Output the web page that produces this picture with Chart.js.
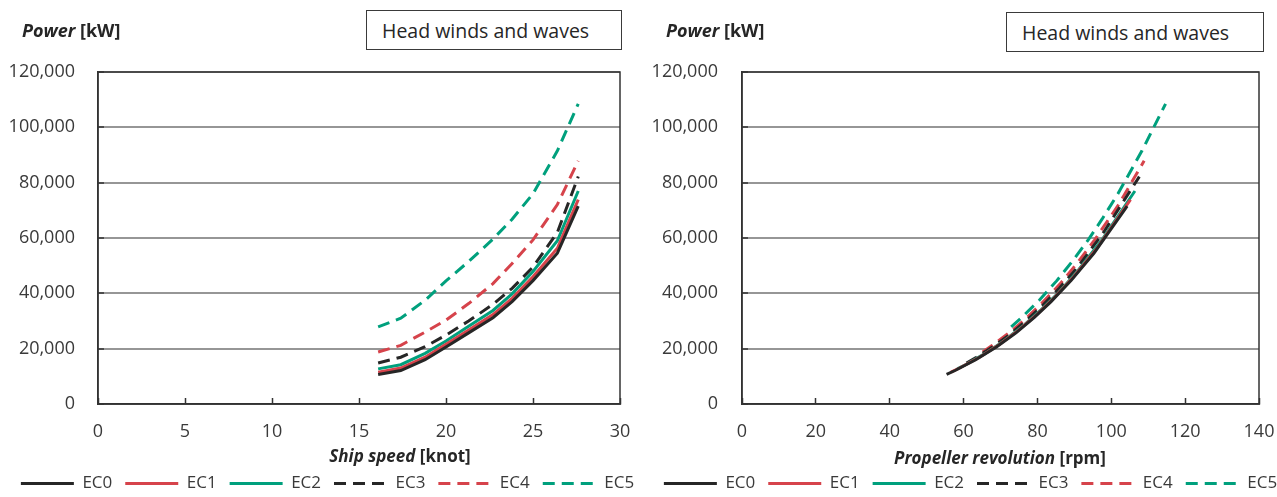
<!DOCTYPE html>
<html>
<head>
<meta charset="utf-8">
<script src="https://cdn.jsdelivr.net/npm/chart.js@4.4.0/dist/chart.umd.min.js"></script>
<style>
html,body{margin:0;padding:0;background:#fff;overflow:hidden;width:1277px;height:497px;}
.wrap{position:absolute;top:0;}
.lbl{position:absolute;font-family:'Open Sans',sans-serif;color:#262626;white-space:nowrap;line-height:20px;}
.ylab{font-size:18px;font-weight:700;}
.xlab{font-size:17px;font-weight:700;transform:translate(-50%,-50%);}
.tbox{position:absolute;border:1.5px solid #3a3a3a;box-sizing:border-box;font-family:'Open Sans',sans-serif;font-size:19.5px;display:flex;align-items:center;padding-left:15px;color:#262626;background:#fff;}
</style>
</head>
<body>
<div class="wrap" style="left:0;width:660px;height:502px"><canvas id="c1" width="660" height="502" style="width:660px;height:502px"></canvas></div>
<div class="wrap" style="left:638px;width:680px;height:502px"><canvas id="c2" width="680" height="502" style="width:680px;height:502px"></canvas></div>

<div class="lbl ylab" style="left:22px;top:20px"><i>Power</i> [kW]</div>
<div class="lbl ylab" style="left:666px;top:20px"><i>Power</i> [kW]</div>
<div class="tbox" style="left:366px;top:10px;width:256px;height:40px">Head winds and waves</div>
<div class="tbox" style="left:1006px;top:12px;width:258px;height:40px">Head winds and waves</div>
<div class="lbl xlab" style="left:400px;top:456px"><i>Ship speed</i> [knot]</div>
<div class="lbl xlab" style="left:1000px;top:458px"><i>Propeller revolution</i> [rpm]</div>

<script>
// ---- data ----
const seriesNames = ['EC0', 'EC1', 'EC2', 'EC3', 'EC4', 'EC5'];
const speedKnots = [16.1, 17.4, 18.8, 20.0, 21.3, 22.7, 23.8, 25.0, 26.4, 27.6];

const powerEC0 = [10700, 12100, 16000, 20600, 25700, 31200, 37000, 44600, 54500, 71500];
const powerEC1 = [11500, 13000, 16900, 21600, 26700, 32300, 38200, 46000, 56300, 73900];
const powerEC2 = [12700, 14200, 18300, 22800, 28100, 33800, 39800, 47900, 59000, 77000];
const powerEC3 = [14800, 16900, 20700, 24900, 30000, 36000, 41800, 49500, 62000, 82200];
const powerEC4 = [18800, 21200, 26000, 30300, 36300, 43500, 50800, 59300, 72100, 87900];
const powerEC5 = [27900, 31000, 37500, 44500, 51500, 59600, 66800, 76000, 91500, 108500];

const rpmEC0 = [55.4, 57.7, 63.3, 68.9, 74.2, 79.1, 83.7, 89.1, 95.3, 104.3];
const rpmEC1 = [56.6, 58.9, 64.3, 69.8, 74.9, 79.8, 84.4, 89.8, 96.1, 105.2];
const rpmEC2 = [58.3, 60.5, 65.9, 70.9, 76.0, 80.8, 85.4, 90.8, 97.3, 106.4];
const rpmEC3 = [60.8, 63.5, 67.9, 72.3, 76.9, 81.7, 85.9, 90.9, 97.9, 107.6];
const rpmEC4 = [65.2, 67.8, 72.6, 76.4, 81.1, 86.2, 90.7, 95.5, 102.0, 108.9];
const rpmEC5 = [72.9, 75.5, 80.5, 85.2, 89.4, 93.9, 97.5, 101.8, 108.3, 114.7];

const powerTicks = [0, 20000, 40000, 60000, 80000, 100000, 120000];
const speedTicks = [0, 5, 10, 15, 20, 25, 30];
const rpmTicks = [0, 20, 40, 60, 80, 100, 120, 140];

// ---- styling ----
const powers = [powerEC0, powerEC1, powerEC2, powerEC3, powerEC4, powerEC5];
const rpms = [rpmEC0, rpmEC1, rpmEC2, rpmEC3, rpmEC4, rpmEC5];
const colors = ['#262626', '#d6434b', '#00a07d', '#262626', '#d6434b', '#00a07d'];
const dashes = [[], [], [], [12, 7], [12, 7], [12, 7]];
const FONT = "'Open Sans', sans-serif";
const TXT = '#3a3a3a';

const frame = {
  id: 'frame',
  beforeDatasetsDraw(chart) {
    const {ctx, chartArea: a} = chart;
    ctx.save();
    ctx.strokeStyle = '#333';
    ctx.lineWidth = 1.5;
    ctx.strokeRect(a.left, a.top, a.right - a.left, a.bottom - a.top);
    ctx.restore();
  }
};

function makeChart(id, xsList, xTicks, opt) {
  const datasets = seriesNames.map((name, i) => ({
    label: name,
    data: xsList[i].map((x, j) => ({x: x, y: powers[i][j]})),
    borderColor: colors[i],
    backgroundColor: colors[i],
    borderWidth: 3,
    borderDash: dashes[i],
    pointRadius: 0,
    showLine: true,
    tension: 0,
    fill: false
  }));
  return new Chart(document.getElementById(id), {
    type: 'scatter',
    data: {datasets},
    options: {
      responsive: false,
      animation: false,
      events: [],
      layout: {padding: {left: opt.padL, right: opt.padR, top: 72, bottom: 0}},
      plugins: {
        tooltip: {enabled: false},
        legend: {
          position: 'bottom',
          labels: {
            font: {family: FONT, size: 17},
            color: TXT,
            usePointStyle: true,
            pointStyleWidth: 53,
            padding: 13,
            generateLabels: ch => ch.data.datasets.map((d, i) => ({
              text: d.label,
              fillStyle: d.borderColor,
              strokeStyle: d.borderColor,
              lineWidth: 3,
              lineDash: d.borderDash,
              pointStyle: 'line',
              hidden: false,
              datasetIndex: i,
              fontColor: TXT
            }))
          }
        }
      },
      scales: {
        x: {
          type: 'linear',
          min: xTicks[0],
          max: xTicks[xTicks.length - 1],
          afterBuildTicks: s => { s.ticks = xTicks.map(v => ({value: v})); },
          ticks: {font: {family: FONT, size: 18}, color: TXT, padding: 23, maxRotation: 0},
          grid: {drawOnChartArea: false, drawTicks: true, tickLength: -6, tickColor: '#333', tickWidth: 1.5},
          border: {color: '#333', width: 1.5},
          afterFit: s => { s.height = 58; }
        },
        y: {
          min: powerTicks[0],
          max: powerTicks[powerTicks.length - 1],
          afterBuildTicks: s => { s.ticks = powerTicks.map(v => ({value: v})); },
          ticks: {font: {family: FONT, size: 18}, color: TXT, padding: opt.yPad},
          grid: {color: '#969696', lineWidth: 2, tickLength: -6, tickColor: '#333', tickWidth: 1.5},
          border: {color: '#333', width: 1.5},
          afterFit: s => { s.width = opt.yW; }
        },
        y2: {
          position: 'right',
          display: true,
          ticks: {display: false},
          grid: {display: false},
          border: {display: false},
          afterFit: s => { s.width = opt.y2W; }
        }
      }
    },
    plugins: [frame]
  });
}

makeChart('c1', seriesNames.map(() => speedKnots), speedTicks, {padL: 0, padR: 5, yW: 98, y2W: 35, yPad: 29});
makeChart('c2', rpms, rpmTicks, {padL: 5, padR: 20, yW: 99, y2W: 39, yPad: 30});
</script>
</body>
</html>
